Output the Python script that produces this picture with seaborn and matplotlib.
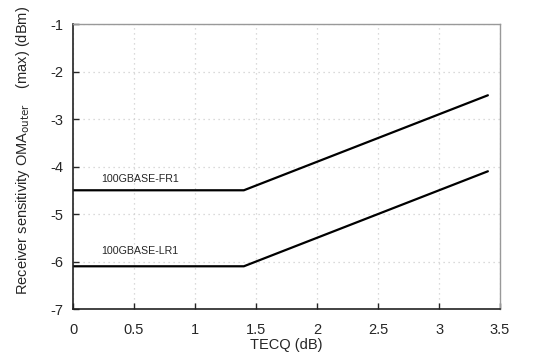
import pandas as pd
import seaborn as sns
import matplotlib.pyplot as plt

# TECQ breakpoints (dB) and receiver sensitivity (dBm)
tecq = [0, 1.4, 3.4]
fr1 = [-4.5, -4.5, -2.5]
lr1 = [-6.1, -6.1, -4.1]

df = pd.DataFrame({
    "tecq": tecq * 2,
    "sens": fr1 + lr1,
    "pmd": ["100GBASE-FR1"] * 3 + ["100GBASE-LR1"] * 3,
})

sns.set_style("white")
plt.rcParams["font.family"] = ["Liberation Sans", "DejaVu Sans"]
plt.rcParams["axes.unicode_minus"] = False

fig = plt.figure(figsize=(5.59, 3.64), dpi=100)
ax = fig.add_axes([0.1306, 0.151, 0.764, 0.783])

sns.lineplot(data=df, x="tecq", y="sens", hue="pmd", palette=["black", "black"],
             linewidth=1.6, legend=False, ax=ax)

ax.text(0.55, -4.33, "100GBASE-FR1", fontsize=7.7, ha="center", va="baseline")
ax.text(0.55, -5.84, "100GBASE-LR1", fontsize=7.7, ha="center", va="baseline")

ax.set_xlim(0, 3.5)
ax.set_ylim(-7, -1)
ax.set_xticks([0, 0.5, 1, 1.5, 2, 2.5, 3, 3.5])
ax.set_xticklabels(["0", "0.5", "1", "1.5", "2", "2.5", "3", "3.5"])
ax.set_yticks(range(-7, 0))
ax.grid(True, color="#cfcfcf", linestyle=(0, (1, 3)), linewidth=0.9)

for s in ["left", "bottom"]:
    ax.spines[s].set_color("#222222")
    ax.spines[s].set_linewidth(1.2)
for s in ["top", "right"]:
    ax.spines[s].set_color("#999999")
    ax.spines[s].set_linewidth(1.0)

ax.tick_params(axis="both", labelsize=10.5, direction="in", length=4, width=1,
               bottom=True, left=True)
ax.tick_params(axis="x", pad=10)
ax.tick_params(axis="y", pad=7)
ax.set_xlabel("TECQ (dB)", fontsize=10.5, labelpad=1)
ax.set_ylabel("Receiver sensitivity OMA$_{\\mathrm{outer}}$    (max) (dBm)",
              fontsize=10.5)
ax.yaxis.set_label_coords(-0.097, 0.555)

fig.savefig("out.png", dpi=100)
